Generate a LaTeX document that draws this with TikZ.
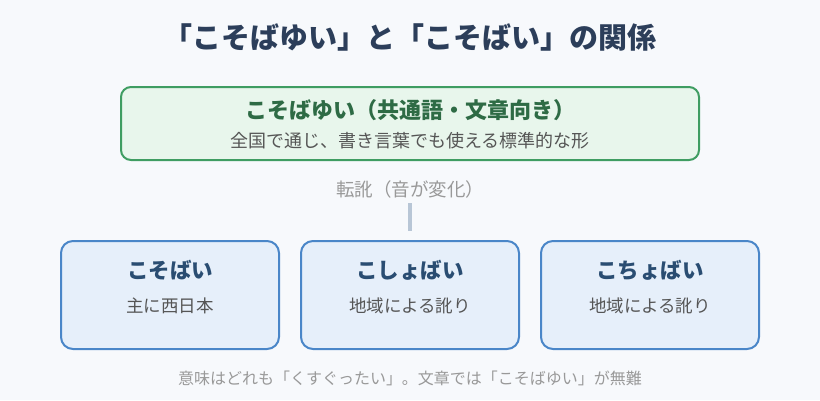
\documentclass[tikz,border=0pt]{standalone}
\usepackage{fontspec}
\setmainfont{Noto Sans CJK JP}
\usetikzlibrary{positioning}
\definecolor{bgcol}{HTML}{F7F9FC}
\definecolor{navy}{HTML}{2C3E5A}
\definecolor{greenline}{HTML}{3F9D62}
\definecolor{greenfill}{HTML}{E8F6EC}
\definecolor{greentext}{HTML}{2E6B45}
\definecolor{blueline}{HTML}{4A86C8}
\definecolor{bluefill}{HTML}{E6EFFA}
\definecolor{bluetext}{HTML}{2A4D72}
\definecolor{subgray}{HTML}{555555}
\definecolor{lightgray}{HTML}{999999}
\definecolor{linkcol}{HTML}{B8C6D6}

\begin{document}
\begin{tikzpicture}[x=1pt,y=-1pt,node distance=20pt,inner sep=0pt,
  std box/.style={draw=greenline,fill=greenfill,line width=2pt,rounded corners=10pt,
    minimum width=578pt,minimum height=73pt},
  var box/.style={draw=blueline,fill=bluefill,line width=2pt,rounded corners=12pt,
    minimum width=218pt,minimum height=108pt},
  head/.style={font=\fontsize{21.5}{26}\selectfont\bfseries},
  note/.style={font=\fontsize{17.5}{21}\selectfont,text=subgray}]
\useasboundingbox[fill=bgcol] (0,0) rectangle (820,400);
\node[font=\fontsize{29}{34}\selectfont\bfseries,text=navy](title) at (410,37)
  {「こそばゆい」と「こそばい」の関係};
\node[std box](std) at (410,123.5){};
\node[head,text=greentext,font=\fontsize{22}{26}\selectfont\bfseries](stdname) at (410,110)
  {こそばゆい（共通語・文章向き）};
\node[note,font=\fontsize{18}{22}\selectfont](stdnote) at (410,141){全国で通じ、書き言葉でも使える標準的な形};
\node[note,text=lightgray,font=\fontsize{18.5}{22}\selectfont](shift) at (410,189){転訛（音が変化）};
\coordinate (linktop) at (410,203);
\coordinate (linkbot) at (410,231);
\node[var box](B) at (410,295){};
\node[var box](A) [left=of B]{};
\node[var box](C) [right=of B]{};
\node[head,text=bluetext](Aname) at ([yshift=-30pt]A.north){こそばい};
\node[head,text=bluetext](Bname) at ([yshift=-30pt]B.north){こしょばい};
\node[head,text=bluetext](Cname) at ([yshift=-30pt]C.north){こちょばい};
\node[note](Anote) at ([yshift=-66pt]A.north){主に西日本};
\node[note](Bnote) at ([yshift=-66pt]B.north){地域による訛り};
\node[note](Cnote) at ([yshift=-66pt]C.north){地域による訛り};
\node[font=\fontsize{16}{19}\selectfont,text=lightgray](foot) at (410,378)
  {意味はどれも「くすぐったい」。文章では「こそばゆい」が無難};
\draw[linkcol,line width=3.5pt] (linktop) -- (linkbot);
\end{tikzpicture}
\end{document}
